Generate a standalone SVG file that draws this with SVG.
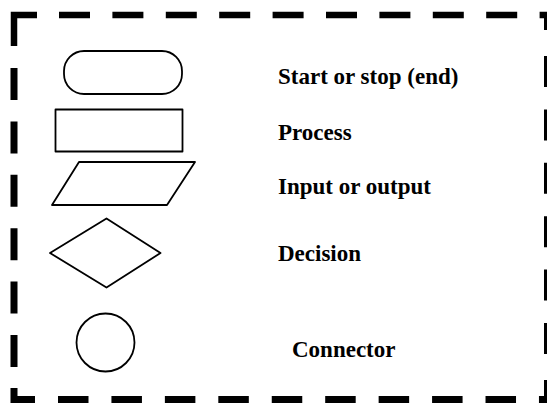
<svg xmlns="http://www.w3.org/2000/svg" width="547" height="403" viewBox="0 0 547 403">
  <style>
    .shape { fill: none; stroke: #000; stroke-width: 1.8; stroke-linejoin: round; }
    .label { font-family: "Liberation Serif", "Times New Roman", serif; font-weight: bold; font-size: 23px; fill: #000; }
    .frame { fill: none; stroke: #000; stroke-linecap: butt; stroke-linejoin: miter; }
  </style>
  <rect x="0" y="0" width="547" height="403" fill="#fff"/>

  <!-- dashed frame around the legend -->
  <g id="frame">
    <path class="frame" stroke-width="6.5" d="M14,46 V15 H37"/>
    <path class="frame" stroke-width="6.5" stroke-dasharray="31 22.4" d="M59,15 H547"/>
    <path class="frame" stroke-width="7" stroke-dasharray="32 21.4" d="M14,68 V367"/>
    <path class="frame" stroke-width="7" d="M14,388 V399.5 H35"/>
    <path class="frame" stroke-width="7" stroke-dasharray="30.5 22.94" d="M58,399.5 H547"/>
    <path class="frame" stroke-width="3" d="M545.5,12 V30"/>
    <path class="frame" stroke-width="3" stroke-dasharray="31 22.4" d="M545.5,56 V360"/>
    <path class="frame" stroke-width="3" d="M545.5,380 V403"/>
  </g>

  <g id="terminal">
    <rect class="shape" x="64" y="51" width="118" height="43" rx="20" ry="20"/>
    <text class="label" x="278" y="84">Start or stop (end)</text>
  </g>

  <g id="process">
    <rect class="shape" x="55.5" y="109.5" width="127" height="42"/>
    <text class="label" x="278" y="140">Process</text>
  </g>

  <g id="io">
    <polygon class="shape" points="79,162 195,162 167,205 52,205"/>
    <text class="label" x="278" y="194">Input or output</text>
  </g>

  <g id="decision">
    <polygon class="shape" points="106.5,218.5 160.5,253 106.5,287.5 50,253"/>
    <text class="label" x="278" y="261">Decision</text>
  </g>

  <g id="connector">
    <circle class="shape" cx="105.5" cy="342.5" r="29"/>
    <text class="label" x="292" y="357">Connector</text>
  </g>

  <g id="connectors"/>
</svg>
